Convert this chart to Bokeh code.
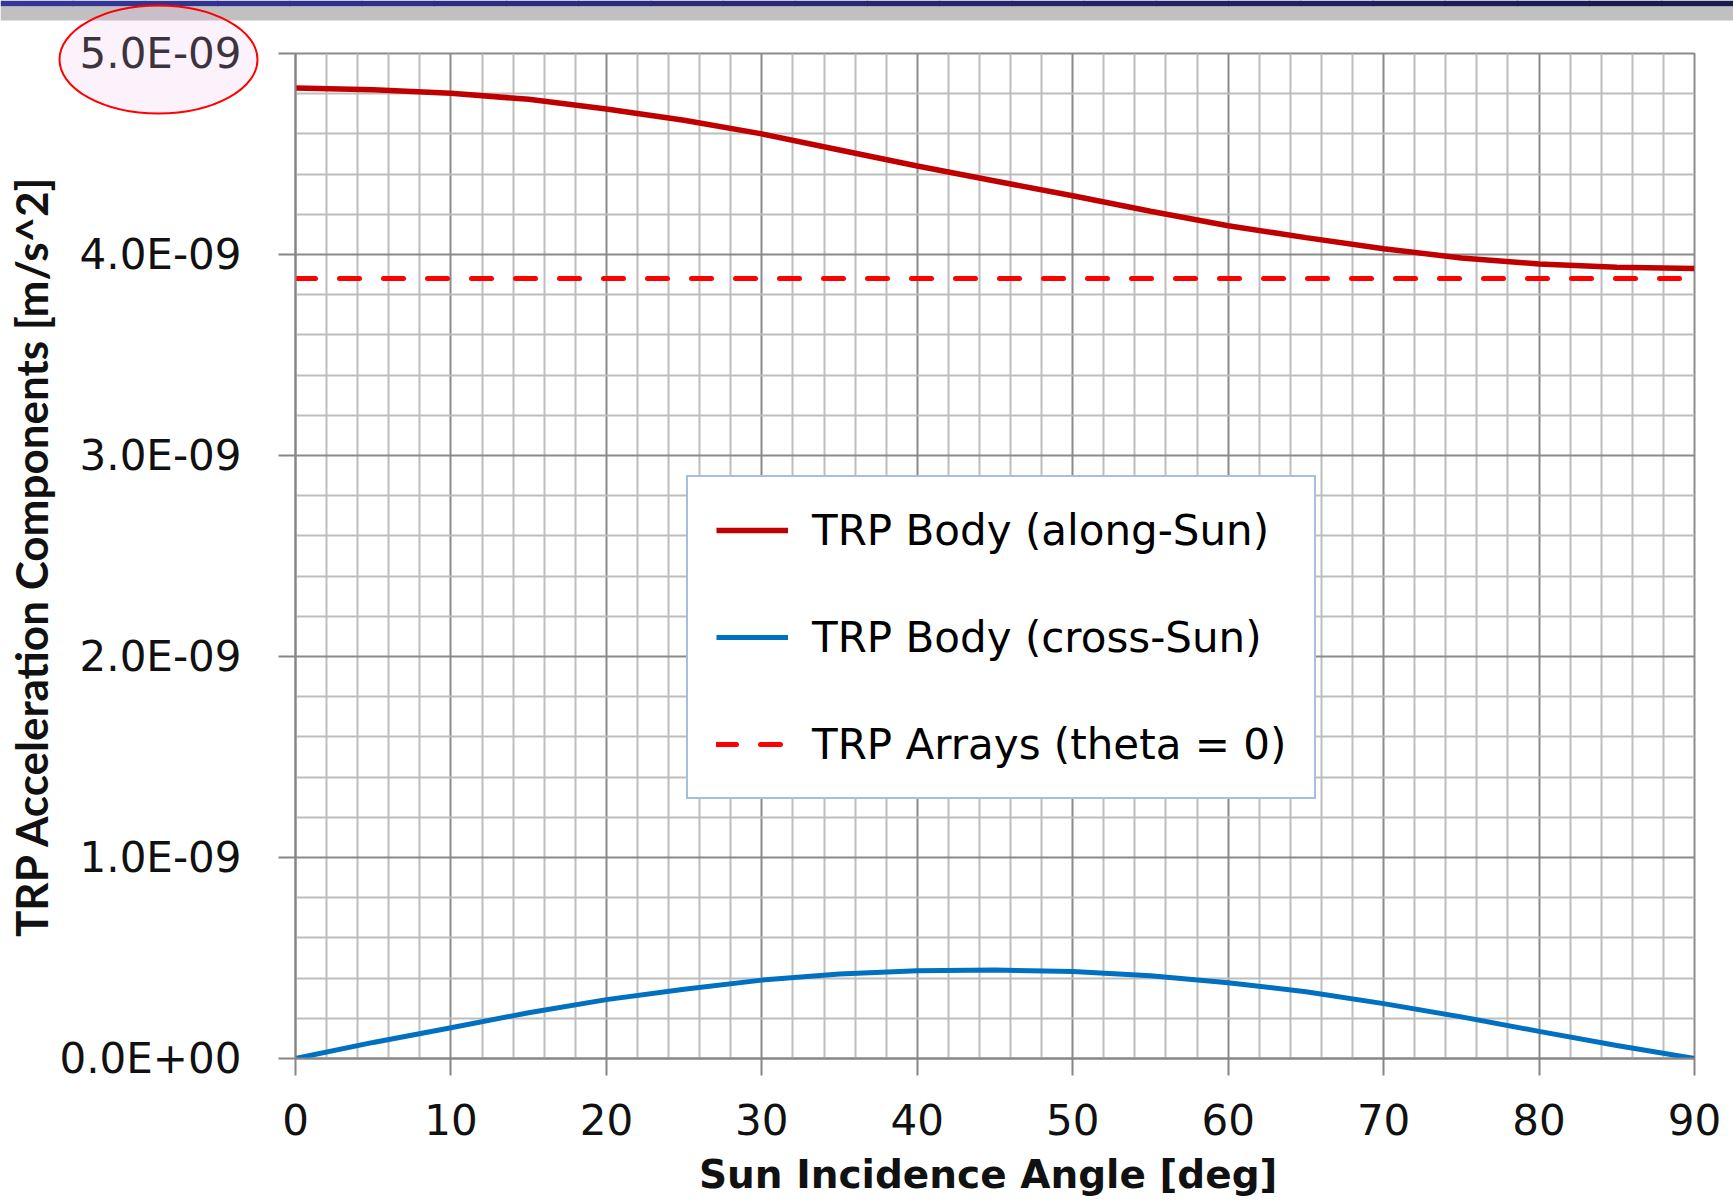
import math
from bokeh.plotting import figure
from bokeh.models import Range1d, FixedTicker, Legend, LegendItem
from bokeh.embed import file_html
from bokeh.resources import INLINE

# ---------------- data ----------------
angle_deg = [0, 5, 10, 15, 20, 25, 30, 35, 40, 45, 50, 55, 60, 65, 70, 75, 80, 85, 90]
trp_body_along_sun = [4.828e-9, 4.820e-9, 4.802e-9, 4.772e-9, 4.724e-9, 4.668e-9, 4.600e-9,
                      4.520e-9, 4.440e-9, 4.366e-9, 4.292e-9, 4.215e-9, 4.143e-9, 4.084e-9,
                      4.029e-9, 3.983e-9, 3.953e-9, 3.937e-9, 3.930e-9]
trp_body_cross_sun = [0.000e-9, 0.080e-9, 0.153e-9, 0.228e-9, 0.293e-9, 0.345e-9, 0.390e-9,
                      0.420e-9, 0.436e-9, 0.440e-9, 0.433e-9, 0.412e-9, 0.377e-9, 0.332e-9,
                      0.273e-9, 0.207e-9, 0.135e-9, 0.065e-9, 0.000e-9]
arrays_angle_deg = [0, 90]
trp_arrays_theta0 = [3.88e-9, 3.88e-9]

x_major_ticks = [0, 10, 20, 30, 40, 50, 60, 70, 80, 90]
x_minor_ticks = [v for v in range(0, 91, 2) if v % 10 != 0]
y_major_ticks = [0.0, 1e-9, 2e-9, 3e-9, 4e-9, 5e-9]
y_tick_labels = ["0.0E+00", "1.0E-09", "2.0E-09", "3.0E-09", "4.0E-09", "5.0E-09"]
y_minor_ticks = [k * 0.2e-9 for k in range(26) if k % 5 != 0]

series_labels = ["TRP Body (along-Sun)", "TRP Body (cross-Sun)", "TRP Arrays (theta = 0)"]

# ---------------- main chart ----------------
W, H = 1733, 1203
p = figure(width=W, height=H, output_backend="svg", toolbar_location=None,
           x_range=Range1d(0, 90), y_range=Range1d(0, 5e-9),
           min_border_left=295, min_border_right=39, min_border_top=53, min_border_bottom=145,
           background_fill_color="white", border_fill_color="white")
p.outline_line_color = "#8c8c8c"
p.outline_line_width = 2

p.xaxis.ticker = FixedTicker(ticks=x_major_ticks, minor_ticks=x_minor_ticks)
p.yaxis.ticker = FixedTicker(ticks=y_major_ticks, minor_ticks=y_minor_ticks)
p.yaxis.major_label_overrides = {t: s for t, s in zip(y_major_ticks, y_tick_labels)}

for ax in (p.xaxis[0], p.yaxis[0]):
    ax.axis_line_color = "#868686"
    ax.axis_line_width = 2
    ax.major_tick_line_color = "#868686"
    ax.major_tick_line_width = 2
    ax.major_tick_out = 17
    ax.major_tick_in = 0
    ax.minor_tick_out = 0
    ax.minor_tick_in = 0
    ax.major_label_text_font = "DejaVu Sans"
    ax.major_label_text_font_size = "42px"
    ax.major_label_text_color = "#111111"
    ax.axis_label_text_font_style = "bold"
    ax.axis_label_text_color = "#111111"

p.xaxis.axis_label = "Sun  Incidence Angle [deg]"
p.yaxis.axis_label = "TRP Acceleration Components [m/s^2]"
p.xaxis.axis_label_text_font = "DejaVu Sans"
p.xaxis.axis_label_text_font_size = "39px"
p.yaxis.axis_label_text_font = "Lato"
p.yaxis.axis_label_text_font_size = "44px"
p.yaxis.major_label_standoff = 37
p.xaxis.major_label_standoff = 28
p.yaxis.axis_label_standoff = 0
p.xaxis.axis_label_standoff = 14

for g in (p.xgrid[0], p.ygrid[0]):
    g.grid_line_color = "#8a8a8a"
    g.grid_line_width = 2
    g.minor_grid_line_color = "#bdbdbd"
    g.minor_grid_line_width = 2

r_along = p.line(angle_deg, trp_body_along_sun, line_color="#c00000", line_width=5.5)
r_cross = p.line(angle_deg, trp_body_cross_sun, line_color="#0070c0", line_width=5)
r_arrays = p.line(arrays_angle_deg, trp_arrays_theta0, line_color="#ff0000", line_width=5,
                  line_dash="20 24", line_cap="round")

legend = Legend(items=[LegendItem(label=series_labels[0], renderers=[r_along]),
                       LegendItem(label=series_labels[1], renderers=[r_cross]),
                       LegendItem(label=series_labels[2], renderers=[r_arrays])],
                location=(391, 259))
legend.label_text_font = "DejaVu Sans"
legend.label_text_font_size = "42px"
legend.label_text_color = "#000000"
legend.glyph_width = 72
legend.glyph_height = 50
legend.label_height = 50
legend.spacing = 57
legend.padding = 28
legend.margin = 0
legend.label_standoff = 24
legend.border_line_color = "#4a7fc1"
legend.border_line_width = 2
legend.background_fill_color = "white"
legend.background_fill_alpha = 1.0
p.add_layout(legend)

# ---------------- transparent overlay: slide header bars + highlight ellipse ----------------
ov = figure(width=W, height=H, output_backend="svg", toolbar_location=None,
            x_range=Range1d(0, W), y_range=Range1d(H, 0),
            x_axis_type=None, y_axis_type=None, min_border=0,
            background_fill_alpha=0, border_fill_alpha=0,
            styles={"position": "absolute", "left": "0px", "top": "0px",
                    "pointer-events": "none", "z-index": "10"})
ov.outline_line_color = None
ov.grid.visible = False

steps = 24
c0 = (52, 53, 150)
c1 = (26, 26, 76)
bar_left = [W * i / steps for i in range(steps)]
bar_right = [W * (i + 1) / steps + 1 for i in range(steps)]
bar_cols = ["#%02x%02x%02x" % tuple(int(round(a + (b - a) * i / (steps - 1))) for a, b in zip(c0, c1))
            for i in range(steps)]
ov.quad(left=bar_left, right=bar_right, top=0, bottom=6, fill_color=bar_cols, line_color=None)
ov.quad(left=0, right=W, top=6, bottom=20, fill_color="#c0c0c0", line_color=None)
ov.ellipse(x=158, y=59, width=198, height=108, fill_color="#f0c0f0", fill_alpha=0.2,
           line_color="#ff0000", line_width=2)

open("out.html", "w").write(file_html([p, ov], INLINE))
